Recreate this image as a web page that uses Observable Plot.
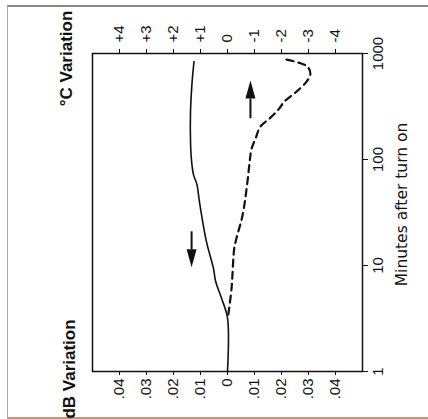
<!DOCTYPE html>
<html><head><meta charset="utf-8">
<script src="https://cdn.jsdelivr.net/npm/d3@7"></script>
<script src="https://cdn.jsdelivr.net/npm/@observablehq/plot@0.6"></script>
<style>
html,body{margin:0;padding:0;background:#fff;}
#wrap{position:relative;width:428px;height:419px;overflow:hidden;}
#edge{position:absolute;left:7px;top:5px;right:0;bottom:0;border-left:1px solid #aaa;border-top:2px solid #888;border-bottom:2px solid #b98;pointer-events:none;}
#wrap svg{position:absolute;left:0;top:0;}
</style></head><body>
<div id="wrap"><div id="edge"></div></div>
<script>
// Solid curve: dB variation vs minutes after turn on
const dbMinutes = [1, 3.2, 4.9, 7.1, 9.4, 16.8, 40, 58, 72, 96, 147, 282, 543, 838];
const dbValues  = [0, 0, 0.0022, 0.0044, 0.0052, 0.0078, 0.0104, 0.0113, 0.0126, 0.0133, 0.0137, 0.0137, 0.0131, 0.0124];
// Dashed curve: °C variation vs minutes after turn on
const cMinutes = [3.45, 6.1, 14.5, 18, 30, 62, 100, 126, 158, 205, 244, 297, 353, 438, 543, 648, 753, 820, 880];
const cValues  = [-0.03, -0.15, -0.25, -0.33, -0.56, -0.74, -0.83, -0.89, -1.04, -1.22, -1.56, -1.89, -2.11, -2.56, -2.93, -3.07, -2.96, -2.63, -2.15];
// Direction arrows (position in °C units, from/to in minutes)
const arrowX    = [1.33, -0.85];
const arrowFrom = [21, 245];
const arrowTo   = [14.2, 376];
const arrowDir  = ["down", "up"];
// Tick labels
const cTicks = [4, 3, 2, 1, 0, -1, -2, -3, -4];
const cTickLabels = ["+4", "+3", "+2", "+1", "0", "-1", "-2", "-3", "-4"];
const dbTickLabels = [".04", ".03", ".02", ".01", "0", ".01", ".02", ".03", ".04"];
const minuteTicks = [1, 10, 100, 1000];
const minuteTickLabels = ["1", "10", "100", "1000"];

const dbData = dbMinutes.map((m, i) => ({min: m, db: dbValues[i]}));
const cData = cMinutes.map((m, i) => ({min: m, c: cValues[i]}));
const arrows = arrowX.map((x, i) => ({x, from: arrowFrom[i], to: arrowTo[i], dir: arrowDir[i]}));

const font = "'Liberation Sans', Arial, sans-serif";
const chart = Plot.plot({
  width: 428, height: 419,
  marginLeft: 92, marginRight: 66, marginTop: 53, marginBottom: 48,
  style: {fontFamily: font, fontSize: "15px", color: "#111", background: "transparent"},
  x: {domain: [5, -5]},
  y: {type: "log", domain: [1, 1000]},
  marks: [
    Plot.frame({stroke: "#111", strokeWidth: 1.5}),
    Plot.axisX({anchor: "top", ticks: cTicks, tickFormat: d => cTickLabels[cTicks.indexOf(d)], tickRotate: -90, tickSize: 5, tickPadding: 6,
      textAnchor: "start", lineAnchor: "middle", fontSize: 15, fill: "#111", label: null}),
    Plot.axisX({anchor: "bottom", ticks: cTicks, tickFormat: d => dbTickLabels[cTicks.indexOf(d)], tickRotate: -90, tickSize: 4, tickPadding: 3,
      textAnchor: "end", lineAnchor: "middle", fontSize: 15, fill: "#111", label: null}),
    Plot.axisY({anchor: "right", ticks: minuteTicks, tickFormat: d => minuteTickLabels[minuteTicks.indexOf(d)], tickRotate: -90, tickSize: 5, tickPadding: 5,
      textAnchor: "middle", lineAnchor: "top", fontSize: 15, fill: "#111", label: null}),
    Plot.line(dbData, {x: d => d.db * 100, y: "min", stroke: "#111", strokeWidth: 1.6, curve: "catmull-rom"}),
    Plot.line(cData, {x: "c", y: "min", stroke: "#111", strokeWidth: 2.2, strokeDasharray: "7,5", curve: "catmull-rom"}),
    Plot.link(arrows, {x1: "x", x2: "x", y1: "from", y2: "to", stroke: "#111", strokeWidth: 2}),
    Plot.vector(arrows, {x: "x", y: "to", rotate: d => d.dir === "up" ? 0 : 180, length: 18, r: 5, shape: "spike", anchor: "start", fill: "#111", stroke: "none"}),
    Plot.text(["Minutes after turn on"], {frameAnchor: "right", dx: 40, dy: -8, rotate: -90, textAnchor: "middle", lineAnchor: "middle", fontFamily: "'DejaVu Sans', sans-serif", fontSize: 15.5, fill: "#111"}),
    Plot.text(["°C Variation"], {frameAnchor: "top-left", dx: -26, dy: 5, rotate: -90, textAnchor: "middle", lineAnchor: "middle", fontWeight: "bold", fontSize: 17, fill: "#111"}),
    Plot.text(["dB Variation"], {frameAnchor: "bottom-left", dx: -23, dy: -2.5, rotate: -90, textAnchor: "middle", lineAnchor: "middle", fontWeight: "bold", fontSize: 17, fill: "#111"})
  ]
});
document.getElementById("wrap").appendChild(chart);
</script>
</body></html>
